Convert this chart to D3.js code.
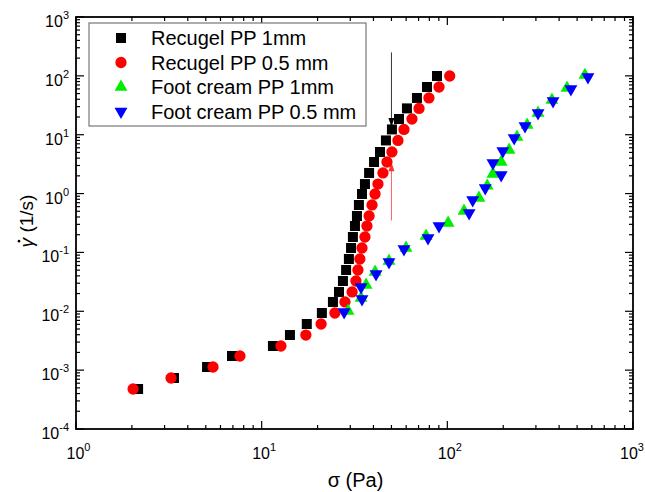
<!DOCTYPE html>
<html>
<head>
<meta charset="utf-8">
<script src="https://cdn.jsdelivr.net/npm/d3@7/dist/d3.min.js"></script>
<style>
body { margin: 0; background: #fff; }
text { font-family: "Liberation Sans", Arial, sans-serif; }
</style>
</head>
<body>
<div id="chart"></div>
<script>
// shear rate steps shared by both Recugel runs (1/s)
var recugelRate = [4.78e-4, 7.35e-4, 1.13e-3, 1.74e-3, 2.57e-3, 3.95e-3, 6.08e-3, 9.35e-3, 1.44e-2, 2.13e-2,
    3.27e-2, 5.03e-2, 7.73e-2, 0.119, 0.183, 0.281, 0.416, 0.640, 0.983, 1.45,
    2.24, 3.44, 5.09, 8.0, 12.3, 18.5, 28.0, 42.1, 64.7, 99.4];
var recugel1mmStress = [2.16, 3.37, 5.08, 6.92, 11.5, 14.2, 17.5, 21.1, 24.2, 26.1,
    27.4, 28.5, 29.5, 30.3, 31.0, 31.8, 32.6, 33.4, 34.7, 36.0,
    37.9, 40.3, 43.4, 46.7, 50.3, 54.9, 60.6, 68.6, 77.7, 88.0];
var recugel05mmStress = [2.03, 3.25, 5.47, 7.64, 12.7, 17.3, 20.9, 24.8, 28.1, 30.7,
    32.2, 33.0, 33.8, 34.7, 36.0, 36.9, 37.9, 39.3, 40.8, 42.3,
    45.0, 47.3, 50.3, 54.2, 58.4, 64.5, 70.4, 79.6, 90.2, 103];
var foot1mmStress = [29.2, 34.3, 36.5, 40.8, 48.5, 59.9, 76.8, 101, 123, 148,
    164, 176, 195, 215, 237, 269, 308, 366, 441, 551];
var foot1mmRate = [1.01e-2, 1.68e-2, 2.80e-2, 4.65e-2, 7.15e-2, 0.119, 0.190, 0.316, 0.506, 0.841,
    1.35, 2.15, 3.44, 5.50, 9.15, 14.6, 23.4, 38.9, 62.2, 103];
var foot05mmStress = [27.8, 34.7, 34.3, 41.3, 48.5, 58.4, 78.7, 90.2, 131, 137,
    160, 195, 176, 199, 229, 262, 308, 371, 463, 572];
var foot05mmRate = [9.72e-3, 1.62e-2, 2.59e-2, 4.30e-2, 6.88e-2, 0.114, 0.176, 0.281, 0.468, 0.778,
    1.24, 2.07, 3.31, 5.29, 8.80, 14.1, 23.4, 37.4, 59.8, 95.6];

var seriesNames = ["Recugel PP 1mm", "Recugel PP 0.5 mm", "Foot cream PP 1mm", "Foot cream PP 0.5 mm"];
var seriesColors = ["#000000", "#ff0000", "#00ee00", "#0000ff"];

var xTickExps = [0, 1, 2, 3];
var yTickExps = [-4, -3, -2, -1, 0, 1, 2, 3];

// vertical marker arrows at sigma = 50 Pa
var arrowStress = 50;
var blackArrowRate = [250, 13.5];
var redArrowRate = [0.35, 3.4];

var margin = {top: 17, right: 12, bottom: 63, left: 76},
    width = 645 - margin.left - margin.right,
    height = 492 - margin.top - margin.bottom;

var svgRoot = d3.select("#chart")
  .append("svg")
    .attr("width", 645)
    .attr("height", 492);
var svg = svgRoot.append("g")
    .attr("transform", "translate(" + margin.left + "," + margin.top + ")");

var x = d3.scaleLog().domain([1, 1000]).range([0, width]);
var y = d3.scaleLog().domain([1e-4, 1000]).range([height, 0]);

// ticks (inside, on all four sides)
function tickList(exps) {
  var out = [];
  for (var i = 0; i < exps.length; i++) {
    out.push({v: Math.pow(10, exps[i]), major: true});
    if (i < exps.length - 1) {
      for (var k = 2; k < 10; k++) out.push({v: k * Math.pow(10, exps[i]), major: false});
    }
  }
  return out;
}
var xt = tickList(xTickExps), yt = tickList(yTickExps);
var ticks = svg.append("g").attr("stroke", "#000").attr("stroke-width", 1.2);
xt.forEach(function(t) {
  var len = t.major ? 8 : 4;
  ticks.append("line").attr("x1", x(t.v)).attr("x2", x(t.v)).attr("y1", height).attr("y2", height - len);
  ticks.append("line").attr("x1", x(t.v)).attr("x2", x(t.v)).attr("y1", 0).attr("y2", len);
});
yt.forEach(function(t) {
  var len = t.major ? 8 : 4;
  ticks.append("line").attr("y1", y(t.v)).attr("y2", y(t.v)).attr("x1", 0).attr("x2", len);
  ticks.append("line").attr("y1", y(t.v)).attr("y2", y(t.v)).attr("x1", width).attr("x2", width - len);
});

svg.append("rect")
  .attr("width", width).attr("height", height)
  .attr("fill", "none").attr("stroke", "#000").attr("stroke-width", 1.8);

// tick labels
xTickExps.forEach(function(e, i) {
  var shift = (i === xTickExps.length - 1) ? 13 : 9.5; // keep the last one inside the page
  var t = svg.append("text")
    .attr("x", x(Math.pow(10, e)) - shift).attr("y", height + 30)
    .style("font-size", "16px");
  t.append("tspan").text("10");
  t.append("tspan").attr("dy", -8).style("font-size", "11px").text(e);
});
yTickExps.forEach(function(e) {
  var t = svg.append("text")
    .attr("x", -7).attr("y", y(Math.pow(10, e)) + 10)
    .style("font-size", "16px")
    .style("text-anchor", "end");
  t.append("tspan").text("10");
  t.append("tspan").attr("dy", -8).style("font-size", "11px").text(e);
});

// axis titles
svg.append("text")
  .attr("x", width / 2 + 1).attr("y", height + 58)
  .style("text-anchor", "middle").style("font-size", "20px")
  .text("σ (Pa)");
var yTitle = svg.append("g")
  .attr("transform", "translate(" + (-43) + "," + (221 - margin.top) + ") rotate(-90)");
var yText = yTitle.append("text")
  .style("text-anchor", "middle").style("font-size", "19px");
yText.append("tspan").style("font-style", "italic").text("γ");
yText.append("tspan").text(" (1/s)");
var g0 = yText.node().getExtentOfChar(0);
yTitle.append("circle")
  .attr("cx", g0.x + g0.width / 2 + 1.5).attr("cy", -14)
  .attr("r", 1.3).attr("fill", "#000");

// arrows
var ax = x(arrowStress);
svg.append("line").attr("x1", ax).attr("x2", ax)
  .attr("y1", y(blackArrowRate[0])).attr("y2", y(blackArrowRate[1]) - 6)
  .attr("stroke", "#333").attr("stroke-width", 1);
svg.append("path")
  .attr("d", "M" + (ax - 3) + "," + (y(blackArrowRate[1]) - 9) + "L" + (ax + 3) + "," + (y(blackArrowRate[1]) - 9) + "L" + ax + "," + y(blackArrowRate[1]) + "Z")
  .attr("fill", "#000");
svg.append("line").attr("x1", ax).attr("x2", ax)
  .attr("y1", y(redArrowRate[0])).attr("y2", y(redArrowRate[1]) + 6)
  .attr("stroke", "#ff6060").attr("stroke-width", 1);
svg.append("path")
  .attr("d", "M" + (ax - 3) + "," + (y(redArrowRate[1]) + 9) + "L" + (ax + 3) + "," + (y(redArrowRate[1]) + 9) + "L" + ax + "," + y(redArrowRate[1]) + "Z")
  .attr("fill", "#ff3030");

// data
var series = [
  {sx: recugel1mmStress, sy: recugelRate, type: d3.symbolSquare, size: 100, rot: 0},
  {sx: recugel05mmStress, sy: recugelRate, type: d3.symbolCircle, size: 100, rot: 0},
  {sx: foot1mmStress, sy: foot1mmRate, type: d3.symbolTriangle, size: 72, rot: 0},
  {sx: foot05mmStress, sy: foot05mmRate, type: d3.symbolTriangle, size: 72, rot: 180}
];
series.forEach(function(s, i) {
  var pts = s.sx.map(function(v, j) { return {sx: v, sy: s.sy[j]}; });
  svg.append("g").selectAll("path")
    .data(pts).enter().append("path")
    .attr("d", d3.symbol().type(s.type).size(s.size))
    .attr("transform", function(d) { return "translate(" + x(d.sx) + "," + y(d.sy) + ") rotate(" + s.rot + ")"; })
    .attr("fill", seriesColors[i]);
});

// legend
var legend = svg.append("g").attr("transform", "translate(" + (89 - margin.left) + "," + (23 - margin.top) + ")");
legend.append("rect").attr("width", 277).attr("height", 103)
  .attr("fill", "#fff").attr("stroke", "#777").attr("stroke-width", 1.2);
series.forEach(function(s, i) {
  var ly = 15 + i * 24.5;
  legend.append("path")
    .attr("d", d3.symbol().type(s.type).size(s.size))
    .attr("transform", "translate(32," + ly + ") rotate(" + s.rot + ")")
    .attr("fill", seriesColors[i]);
  legend.append("text")
    .attr("x", 62).attr("y", ly + 7)
    .style("font-size", "20px")
    .text(seriesNames[i]);
});
</script>
</body>
</html>
